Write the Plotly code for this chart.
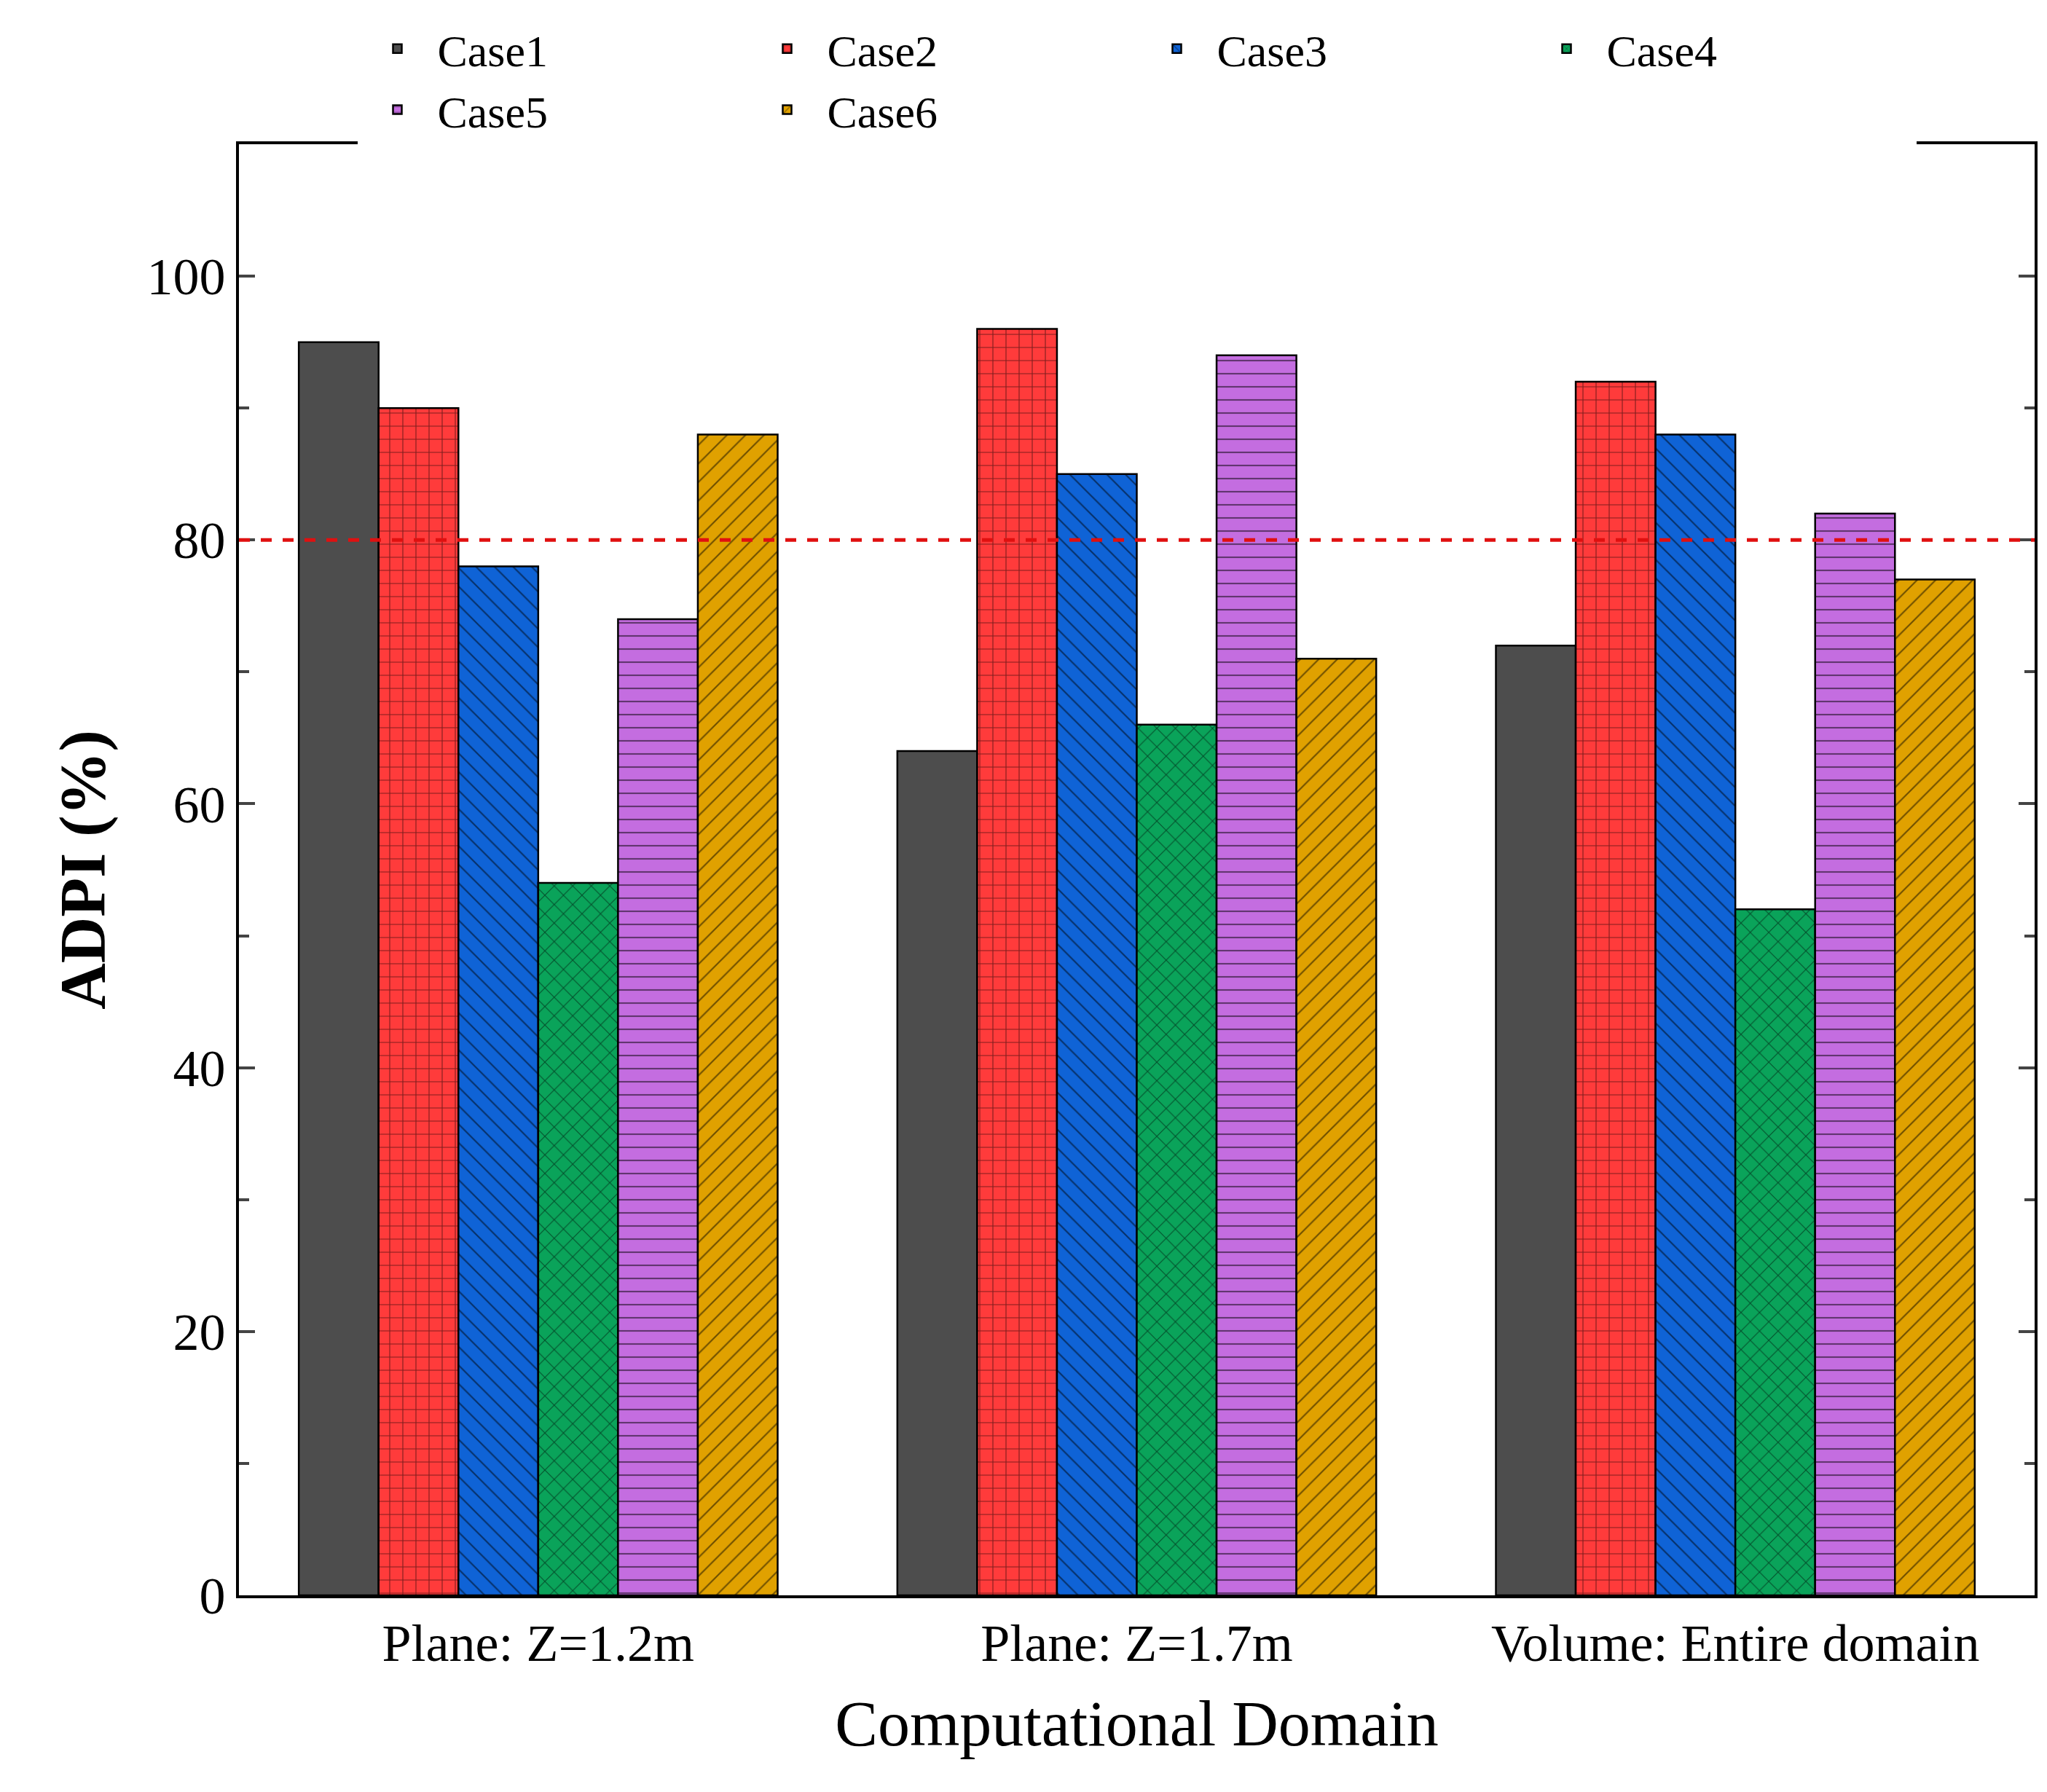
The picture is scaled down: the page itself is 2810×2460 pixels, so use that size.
import plotly.graph_objects as go

categories = ["Plane: Z=1.2m", "Plane: Z=1.7m", "Volume: Entire domain"]
cases = ["Case1", "Case2", "Case3", "Case4", "Case5", "Case6"]
values = {
    "Case1": [95, 64, 72],
    "Case2": [90, 96, 92],
    "Case3": [78, 85, 88],
    "Case4": [54, 66, 52],
    "Case5": [74, 94, 82],
    "Case6": [88, 71, 77],
}
colors = ["#4d4d4d", "#ff3b3b", "#0f63d6", "#0aa35a", "#c46de0", "#e0a100"]
patterns = ["", "+", "\\", "x", "-", "/"]
threshold = 80

fig = go.Figure()
for c, col, pat in zip(cases, colors, patterns):
    fig.add_trace(go.Bar(
        x=categories, y=values[c], name=c,
        marker=dict(color=col, line=dict(color="black", width=2.5),
                    pattern=dict(shape=pat, fgcolor="black", size=18, solidity=0.12)),
    ))

fig.add_shape(type="line", xref="paper", x0=0, x1=1, yref="y", y0=threshold, y1=threshold,
              line=dict(color="#e01010", width=5, dash="dash"))

font = "Liberation Serif"
fig.update_layout(
    width=2810, height=2460, paper_bgcolor="white", plot_bgcolor="white",
    barmode="group", bargap=0.2, bargroupgap=0,
    margin=dict(l=320, r=25, t=184, b=278),
    font=dict(family=font, size=72, color="black"),
    legend=dict(orientation="h", x=0.5, xanchor="center", y=1.0, yanchor="bottom",
                font=dict(size=62), itemwidth=100, entrywidth=420, traceorder="normal"),
    xaxis=dict(showline=True, linecolor="black", linewidth=4, mirror=True, ticks="",
               title=dict(text="Computational Domain", font=dict(size=88), standoff=40)),
    yaxis=dict(range=[0, 110], dtick=20, showline=True, linecolor="black", linewidth=4,
               mirror="ticks", ticks="inside", ticklen=22, tickwidth=4, showgrid=False,
               minor=dict(dtick=10, ticks="inside", ticklen=14, tickwidth=4),
               title=dict(text="<b>ADPI (%)</b>", font=dict(size=88), standoff=30)),
)
fig.write_html("out.html")
